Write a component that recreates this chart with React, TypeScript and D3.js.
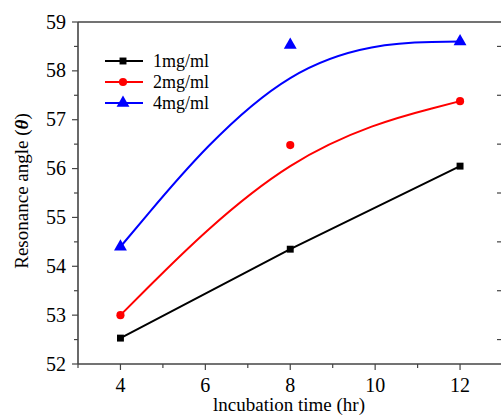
import React, { useEffect, useRef } from "react";
import * as d3 from "d3";

const hours = [4, 8, 12];
const series1 = [52.53, 54.35, 56.05];
const series2 = [53.0, 56.48, 57.38];
const series3 = [54.4, 58.53, 58.6];
const seriesNames = ["1mg/ml", "2mg/ml", "4mg/ml"];
const seriesColors = ["#000000", "#ff0000", "#0000ff"];
const xTicks = [4, 6, 8, 10, 12];
const yTicks = [52, 53, 54, 55, 56, 57, 58, 59];

const W = 501;
const H = 416;
const FONT = "Liberation Serif, Times New Roman, DejaVu Serif, serif";

const App = () => {
  const ref = useRef<SVGSVGElement>(null);

  useEffect(() => {
    const svg = d3.select(ref.current);
    svg.selectAll("*").remove();

    const x = d3.scaleLinear().domain([3, 13]).range([78, 502.5]);
    const y = d3.scaleLinear().domain([52, 59]).range([364, 22]);
    const axisColor = "#444";

    const g = svg.append("g").style("font-family", FONT);

    // frame
    g.append("line").attr("x1", x(3)).attr("x2", x(13)).attr("y1", y(59)).attr("y2", y(59))
      .attr("stroke", axisColor).attr("stroke-width", 1.6);
    g.append("line").attr("x1", x(3)).attr("x2", x(13)).attr("y1", y(52)).attr("y2", y(52))
      .attr("stroke", axisColor).attr("stroke-width", 1.6);
    g.append("line").attr("x1", x(3)).attr("x2", x(3)).attr("y1", y(52)).attr("y2", y(59))
      .attr("stroke", axisColor).attr("stroke-width", 1.6);

    // x ticks
    const xMinor = d3.range(3, 13.01, 1);
    xMinor.forEach((v) => {
      const major = xTicks.includes(v);
      g.append("line").attr("x1", x(v)).attr("x2", x(v))
        .attr("y1", y(52)).attr("y2", y(52) + (major ? 6 : 4))
        .attr("stroke", axisColor).attr("stroke-width", 1.2);
    });
    g.selectAll(".xl").data(xTicks).enter().append("text")
      .attr("x", (d) => x(d)).attr("y", 392)
      .attr("text-anchor", "middle").attr("font-size", 20)
      .text((d) => d);

    // y ticks
    const yMinor = d3.range(52, 59.01, 0.5);
    yMinor.forEach((v) => {
      const major = Number.isInteger(v);
      g.append("line").attr("x1", x(3) - (major ? 6 : 4)).attr("x2", x(3))
        .attr("y1", y(v)).attr("y2", y(v))
        .attr("stroke", axisColor).attr("stroke-width", 1.2);
      if (!major) {
        g.append("line").attr("x1", 497).attr("x2", 502)
          .attr("y1", y(v)).attr("y2", y(v))
          .attr("stroke", axisColor).attr("stroke-width", 1.2);
      }
    });
    g.selectAll(".yl").data(yTicks).enter().append("text")
      .attr("x", 66).attr("y", (d) => y(d) + 6.5)
      .attr("text-anchor", "end").attr("font-size", 20)
      .text((d) => d);

    // axis titles
    g.append("text").attr("x", 289).attr("y", 411).attr("text-anchor", "middle")
      .attr("font-size", 19).text("lncubation time (hr)");
    const yt = g.append("text").attr("transform", `translate(28,191) rotate(-90)`)
      .attr("text-anchor", "middle").attr("font-size", 19);
    yt.append("tspan").text("Resonance angle (");
    yt.append("tspan").attr("font-style", "italic").attr("font-weight", "bold").text("\u03B8");
    yt.append("tspan").text(")");

    const data = [series1, series2, series3];
    const curves = [d3.curveLinear, d3.curveBasis, d3.curveBasis];

    const symbols = [d3.symbolSquare, d3.symbolCircle, d3.symbolTriangle];
    const symSizes = [48, 52, 72];

    data.forEach((vals, i) => {
      const pts = hours.map((h, j) => [h, vals[j]] as [number, number]);
      const line = d3.line<[number, number]>().x((d) => x(d[0])).y((d) => y(d[1])).curve(curves[i]);
      g.append("path").attr("d", line(pts)).attr("fill", "none")
        .attr("stroke", seriesColors[i]).attr("stroke-width", 2);
      g.selectAll(".m" + i).data(pts).enter().append("path")
        .attr("d", d3.symbol().type(symbols[i]).size(symSizes[i]))
        .attr("transform", (d) => `translate(${x(d[0])},${y(d[1])})`)
        .attr("fill", seriesColors[i]);
    });

    // legend
    const leg = g.append("g");
    const rows = [61, 82, 103];
    seriesNames.forEach((name, i) => {
      leg.append("line").attr("x1", 105).attr("x2", 143).attr("y1", rows[i]).attr("y2", rows[i])
        .attr("stroke", seriesColors[i]).attr("stroke-width", 2);
      leg.append("path").attr("d", d3.symbol().type(symbols[i]).size(symSizes[i]))
        .attr("transform", `translate(123,${rows[i]})`).attr("fill", seriesColors[i]);
      leg.append("text").attr("x", 153).attr("y", rows[i] + 6)
        .attr("font-size", 18).text(name);
    });
  }, []);

  return (
    <svg ref={ref} width={W} height={H}
      style={{ position: "absolute", left: 0, top: 0, background: "#fff" }} />
  );
};

export default App;
